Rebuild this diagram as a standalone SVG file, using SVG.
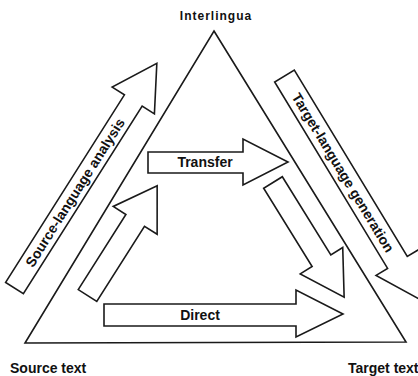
<svg xmlns="http://www.w3.org/2000/svg" width="418" height="376" viewBox="0 0 418 376">
<style>
.ln{fill:none;stroke:#1a1a1a;stroke-width:1.6;stroke-linejoin:miter}
.ar{fill:#fff;stroke:#1a1a1a;stroke-width:1.6;stroke-linejoin:miter}
.lb{font-family:"Liberation Sans",Arial,sans-serif;font-weight:bold;fill:#111}
</style>
<rect width="418" height="376" fill="#fff"/>
<g id="triangle">
<path class="ln" d="M214,31 L406,342 L25,343 Z"/>
</g>
<g id="interlingua"><text class="lb" x="216" y="19.5" font-size="12" letter-spacing="1" text-anchor="middle">Interlingua</text></g>
<g id="source-text"><text class="lb" x="10" y="372.5" font-size="14">Source text</text></g>
<g id="target-text"><text class="lb" x="348" y="372.5" font-size="14">Target text</text></g>
<g id="connectors">
<g id="source-language-analysis" transform="translate(14.5,288) rotate(-57.65)">
<path class="ar" d="M0,-10.5 L222,-10.5 L222,-25 L266,0 L222,25 L222,10.5 L0,10.5 Z"/>
<text class="lb" x="113" y="0" dy="0.35em" font-size="14" text-anchor="middle">Source-language analysis</text>
</g>
<g id="analysis-inner" transform="translate(87.5,295.5) rotate(-57.6)">
<path class="ar" d="M0,-11 L89,-11 L89,-26 L130,0 L89,26 L89,11 L0,11 Z"/>
</g>
<g id="target-language-generation" transform="translate(284.5,76) rotate(58.8)">
<path class="ar" d="M0,-11.5 L218,-11.5 L218,-25 L261,0 L218,25 L218,11.5 L0,11.5 Z"/>
<text class="lb" x="113" y="0" dy="0.35em" font-size="14" text-anchor="middle">Target-language generation</text>
</g>
<g id="generation-inner" transform="translate(273,182.5) rotate(58.2)">
<path class="ar" d="M0,-11 L92,-11 L92,-25 L135,0 L92,25 L92,11 L0,11 Z"/>
</g>
<g id="transfer">
<path class="ar" d="M148,152 L243,152 L243,139 L288,162 L243,185 L243,173 L148,173 Z"/>
<text class="lb" x="205" y="167" font-size="14" text-anchor="middle">Transfer</text>
</g>
<g id="direct">
<path class="ar" d="M104,304 L296,304 L296,290 L343,314 L296,337 L296,326 L104,326 Z"/>
<text class="lb" x="200" y="320" font-size="14" text-anchor="middle">Direct</text>
</g>
</g>
</svg>
